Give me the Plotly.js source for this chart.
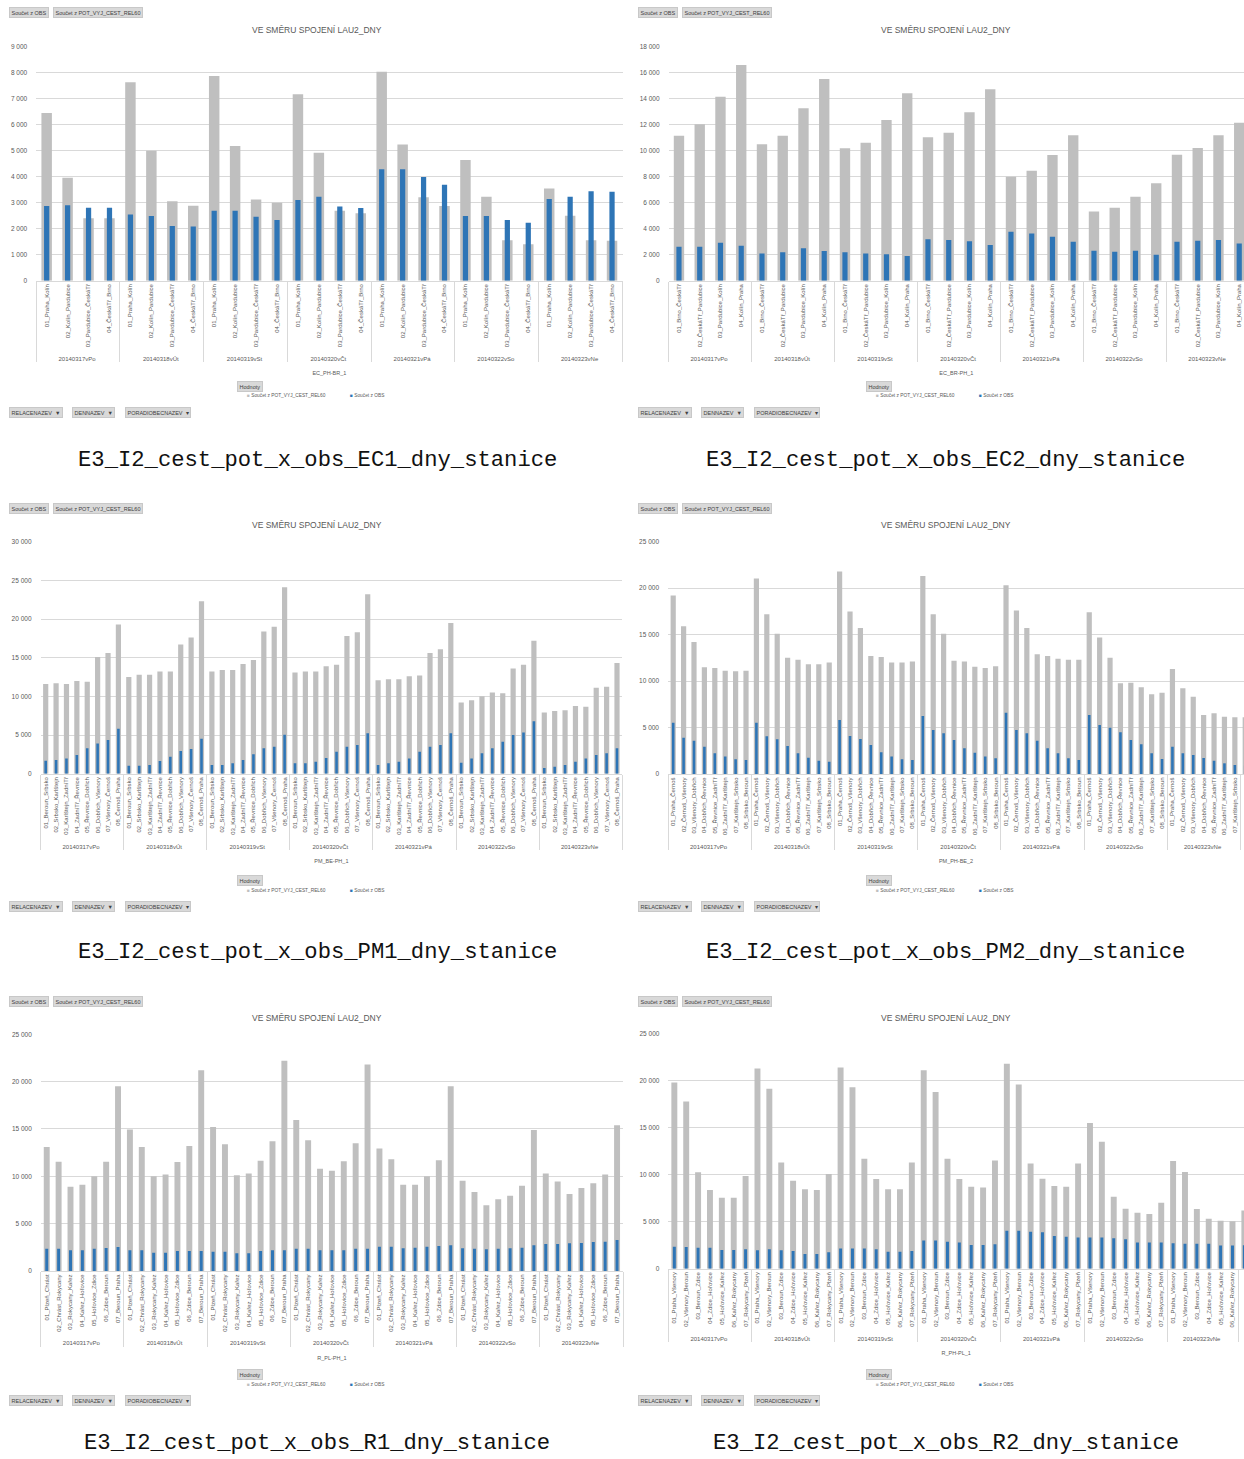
<!DOCTYPE html>
<html><head><meta charset="utf-8">
<script src="https://cdn.plot.ly/plotly-3.0.1.min.js"></script>
<style>html,body{margin:0;padding:0;background:#fff}#chart{width:1244px;height:1459px}</style>
</head><body><div id="chart"></div>
<script>
// ---------- DATA ----------
const days = ["20140317vPo","20140318vÚt","20140319vSt","20140320vČt","20140321vPá","20140322vSo","20140323vNe"];

const chartTitle = "VE SMĚRU SPOJENÍ LAU2_DNY";
const potName = "Součet z POT_VYJ_CEST_REL60";
const obsName = "Součet z OBS";
const filterNames = ["RELACENAZEV","DENNAZEV","PORADIOBECNAZEV"];
const valuesLabel = "Hodnoty";

const ec1Relation = "EC_PH-BR_1";
const ec1Stations = ["01_Praha_Kolín","02_Kolín_Pardubice","03_Pardubice_ČeskáTř","04_ČeskáTř_Brno"];
const ec1Pot = [6450,3960,2400,2400, 7630,5000,3060,2880, 7870,5180,3120,3000, 7170,4920,2690,2590, 8040,5240,3210,2870, 4640,3230,1560,1400, 3550,2500,1560,1540];
const ec1Obs = [2870,2900,2810,2810, 2550,2490,2100,2080, 2690,2690,2460,2330, 3100,3230,2850,2800, 4290,4290,3990,3690, 2490,2490,2330,2230, 3140,3230,3440,3420];

const ec2Relation = "EC_BR-PH_1";
const ec2Stations = ["01_Brno_ČeskáTř","02_ČeskáTř_Pardubice","03_Pardubice_Kolín","04_Kolín_Praha"];
const ec2Pot = [11150,12030,14150,16590, 10490,11150,13260,15510, 10180,10620,12360,14410, 11030,11380,12950,14720, 8000,8460,9670,11180, 5330,5620,6460,7490, 9690,10210,11180,12150];
const ec2Obs = [2620,2620,2920,2690, 2100,2180,2490,2280, 2180,2100,2030,1900, 3180,3130,3030,2740, 3770,3640,3380,3000, 2310,2230,2310,2000, 3000,3080,3130,2870];

const pm1Relation = "PM_BE-PH_1";
const pm1Stations = ["01_Beroun_Srbsko","02_Srbsko_Karlštejn","03_Karlštejn_ZadníTř","04_ZadníTř_Řevnice","05_Řevnice_Dobřich","06_Dobřich_Všenory","07_Všenory_Černoš","08_Černoš_Praha"];
const pm1Pot = [11600,11700,11600,12000,11900,15100,15600,19300,
                12500,12800,12800,13200,13200,16700,17600,22300,
                13200,13400,13400,14200,14700,18400,19000,24100,
                13100,13200,13200,13900,14100,17800,18300,23200,
                12100,12200,12200,12600,12700,15600,16100,19500,
                9200,9500,10000,10500,10400,13600,14100,17200,
                7900,8100,8200,8750,8660,11100,11250,14300];
const pm1Obs = [1680,1770,1980,2410,3280,3920,4350,5820,
                1030,1030,1120,1640,2200,2930,3190,4530,
                1120,1120,1340,1770,2500,3280,3490,5040,
                1340,1340,1550,2030,2840,3490,3710,5220,
                1120,1340,1550,1980,2840,3490,3710,5220,
                1420,1980,2630,3280,4140,5000,5340,6770,
                730,910,1120,1550,1980,2410,2630,3280];

const pm2Relation = "PM_PH-BE_2";
const pm2Stations = ["01_Praha_Černoš","02_Černoš_Všenory","03_Všenory_Dobřich","04_Dobřich_Řevnice","05_Řevnice_ZadníTř","06_ZadníTř_Karlštejn","07_Karlštejn_Srbsko","08_Srbsko_Beroun"];
const pm2Pot = [19200,15900,14200,11500,11400,11100,11050,11100,
                21050,17200,15100,12500,12300,11800,11800,12000,
                21800,17500,15700,12700,12600,12000,12000,12100,
                21300,17200,15100,12200,12100,11550,11400,11600,
                20300,17600,15700,12900,12700,12400,12300,12300,
                17400,14700,12500,9760,9830,9330,8570,8750,
                11300,9220,8320,6350,6530,6170,6100,6100];
const pm2Obs = [5520,3910,3590,2940,2220,1870,1580,1510,
                5520,4050,3730,3010,2220,1760,1430,1330,
                5810,4090,3770,3120,2330,1870,1580,1510,
                6240,4730,4380,3660,2760,2300,1870,1690,
                6600,4730,4380,3590,2760,2220,1690,1510,
                6350,5270,4990,4480,3660,3190,2220,1610,
                2940,2220,2040,1720,1430,1150,970,900];

const r1Relation = "R_PL-PH_1";
const r1Stations = ["01_Plzeň_Chrást","02_Chrást_Rokycany","03_Rokycany_Kařez","04_Kařez_Hořovice","05_Hořovice_Zdice","06_Zdice_Beroun","07_Beroun_Praha"];
const r1Pot = [13100,11550,8900,9100,10000,11550,19500,
               14950,13100,10000,10200,11500,13200,21200,
               15200,13400,10100,10300,11650,13700,22200,
               15950,13800,10800,10600,11600,13500,21800,
               12950,11800,9100,9100,10000,11700,19500,
               9540,8350,6940,7570,7960,9000,14900,
               10300,9440,8130,8770,9260,10200,15400];
const r1Obs = [2360,2360,2180,2180,2360,2430,2540,
               2180,2180,1940,1940,2110,2110,2110,
               2040,2040,1870,1870,2110,2180,2180,
               2360,2360,2180,2180,2180,2360,2360,
               2570,2570,2390,2460,2570,2640,2710,
               2390,2360,2290,2360,2390,2460,2710,
               2850,2850,2920,2960,3060,3100,3270];

const r2Relation = "R_PH-PL_1";
const r2Stations = ["01_Praha_Všenory","02_Všenory_Beroun","03_Beroun_Zdice","04_Zdice_Hořovice","05_Hořovice_Kařez","06_Kařez_Rokycany","07_Rokycany_Plzeň"];
const r2Pot = [19800,17800,10250,8370,7550,7550,9860,
               21300,19150,11300,9360,8440,8370,10070,
               21400,19300,11700,9540,8440,8440,11300,
               21100,18800,11700,9540,8720,8650,11500,
               21800,19600,11200,9570,8790,8720,11200,
               15500,13500,7660,6380,5960,5820,7020,
               11450,10300,6350,5320,5110,5040,6200];
const r2Obs = [2340,2300,2230,2230,1990,1990,2060,
               1950,2060,1950,1880,1560,1560,1740,
               2160,2160,2160,2060,1810,1810,1880,
               3010,3010,2870,2800,2520,2520,2590,
               4040,4040,3940,3870,3480,3400,3330,
               3330,3330,3230,3120,2800,2800,2800,
               2700,2660,2660,2660,2480,2480,2500];

const captions = ["E3_I2_cest_pot_x_obs_EC1_dny_stanice","E3_I2_cest_pot_x_obs_EC2_dny_stanice",
                  "E3_I2_cest_pot_x_obs_PM1_dny_stanice","E3_I2_cest_pot_x_obs_PM2_dny_stanice",
                  "E3_I2_cest_pot_x_obs_R1_dny_stanice","E3_I2_cest_pot_x_obs_R2_dny_stanice"];

// ---------- LAYOUT / STYLE ----------
const W = 1244, H = 1459;
const GREY = "#bfbfbf", BLUE = "#2e75b6", TXT = "#595959", GRID = "#d9d9d9";
const FONT = "Liberation Sans Narrow, Liberation Sans, Arial, sans-serif";

const panels = [
  {st:ec1Stations,pot:ec1Pot,obs:ec1Obs,rel:ec1Relation,ymax:9000, dt:1000,xl:36.2,xr:622.5,yt:46.7, yb:280.7, xEnd:null, ox:0,  oy:0,   capY:460},
  {st:ec2Stations,pot:ec2Pot,obs:ec2Obs,rel:ec2Relation,ymax:18000,dt:2000,xl:668.6,xr:1244, yt:46.7, yb:280.7, xEnd:27.23,ox:629,oy:0,   capY:460},
  {st:pm1Stations,pot:pm1Pot,obs:pm1Obs,rel:pm1Relation,ymax:30000,dt:5000,xl:40.5,xr:622.2,yt:541.7,yb:773.7, xEnd:null, ox:0,  oy:495, capY:953},
  {st:pm2Stations,pot:pm2Pot,obs:pm2Obs,rel:pm2Relation,ymax:25000,dt:5000,xl:668, xr:1244, yt:541.7,yb:774,   xEnd:54.88,ox:629,oy:495, capY:953},
  {st:r1Stations, pot:r1Pot, obs:r1Obs, rel:r1Relation, ymax:25000,dt:5000,xl:40.8,xr:623,  yt:1034.3,yb:1271, xEnd:null, ox:0,  oy:988, capY:1443},
  {st:r2Stations, pot:r2Pot, obs:r2Obs, rel:r2Relation, ymax:25000,dt:5000,xl:668.4,xr:1244,yt:1033.7,yb:1268.7,xEnd:47.97,ox:629,oy:988, capY:1443}
];

const data = [];
const layout = {
  width: W, height: H, margin:{l:0,r:0,t:0,b:0},
  paper_bgcolor:"#fff", plot_bgcolor:"#fff",
  barmode:"overlay", showlegend:false, separators:", ",
  font:{family:FONT, color:TXT, size:6},
  annotations:[]
};
const P = (x,y)=>({x:x/W, y:1-y/H, xref:"paper", yref:"paper"});
function btn(x,y,text,anchor){
  layout.annotations.push(Object.assign(P(x,y),{text:text,showarrow:false,xanchor:anchor||"left",yanchor:"middle",
    font:{size:5.5,color:"#404040",family:FONT},bgcolor:"#d9d9d9",bordercolor:"#c8c8c8",borderwidth:1,borderpad:1.5}));
}
function txt(x,y,text,size,color,anchor,family,pad){
  layout.annotations.push(Object.assign(P(x,y),{text:text,showarrow:false,xanchor:anchor||"center",yanchor:"middle",
    borderpad:(pad===undefined?1:pad), font:{size:size,color:color||TXT,family:family||FONT}}));
}

panels.forEach((p,i)=>{
  const n = i+1, sfx = n>1 ? String(n) : "";
  const outer = [], inner = [];
  days.forEach(d=>p.st.forEach(s=>{outer.push(d); inner.push(s);}));
  data.push({type:"bar", x:[outer,inner], y:p.pot, xaxis:"x"+sfx, yaxis:"y"+sfx, name:potName,
             marker:{color:GREY}, width:0.5});
  data.push({type:"bar", x:[outer,inner], y:p.obs, xaxis:"x"+sfx, yaxis:"y"+sfx, name:obsName,
             marker:{color:BLUE}, width:0.25});
  const nCat = outer.length;
  layout["xaxis"+sfx] = {
    type:"multicategory", domain:[p.xl/W, p.xr/W], anchor:"y"+sfx,
    range:[-0.5, p.xEnd===null ? nCat-0.5 : p.xEnd],
    tickangle:-90, tickfont:{size:6,color:TXT,family:FONT},
    showdividers:true, dividercolor:GRID, dividerwidth:1,
    showline:true, linecolor:GRID, linewidth:1, ticks:"", showgrid:false, fixedrange:true,
    title:{text:p.rel, font:{size:5.5,color:TXT,family:FONT}, standoff:10}
  };
  layout["yaxis"+sfx] = {
    domain:[1-p.yb/H, 1-p.yt/H], anchor:"x"+sfx, range:[0,p.ymax], dtick:p.dt, tick0:0,
    tickformat:",d", separatethousands:true, tickfont:{size:6.5,color:TXT,family:FONT},
    gridcolor:GRID, gridwidth:1, zeroline:false, showline:false, ticks:"", ticklabelstandoff:8, fixedrange:true
  };
  const ox = p.ox, oy = p.oy;
  // header buttons
  btn(ox+9, oy+13, obsName);
  btn(ox+53, oy+13, potName);
  // chart title
  txt(ox+317, oy+30, chartTitle, 8.5, TXT);
  // values button and legend
  btn(ox+237, oy+386, valuesLabel);
  txt(ox+245, oy+396, '<span style="color:'+GREY+'">■</span> '+potName, 4.8, TXT, "left");
  txt(ox+348, oy+396, '<span style="color:'+BLUE+'">■</span> '+obsName, 4.8, TXT, "left");
  // filter buttons
  btn(ox+9, oy+412, filterNames[0]+"  ▼");
  btn(ox+72, oy+412, filterNames[1]+"  ▼");
  btn(ox+125, oy+412, filterNames[2]+"  ▾");
  // caption
  txt(ox+317, p.capY, captions[i], 22.2, "#111", "center", "Liberation Mono, Courier New, monospace", 0);
});

Plotly.newPlot("chart", data, layout, {staticPlot:true, displayModeBar:false});
</script>
</body></html>
